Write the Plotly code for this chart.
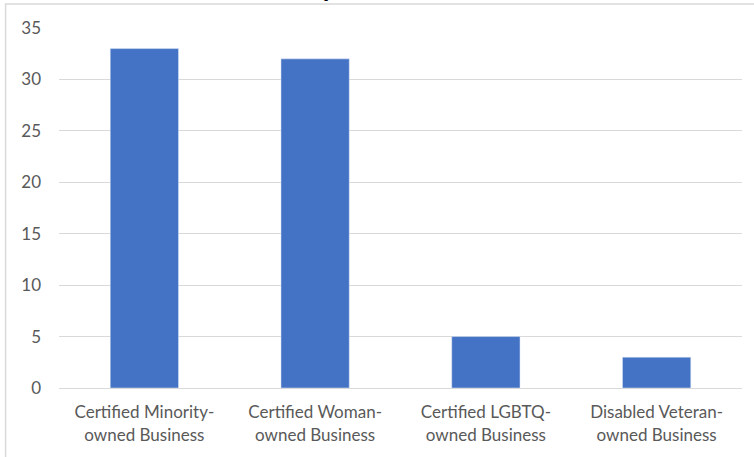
import plotly.graph_objects as go

categories = ["Certified Minority-<br>owned Business", "Certified Woman-<br>owned Business",
              "Certified LGBTQ-<br>owned Business", "Disabled Veteran-<br>owned Business"]
values = [33, 32, 5, 3]
y_ticks = [0, 5, 10, 15, 20, 25, 30, 35]

W, H = 754, 457
L, R, T, B = 58.5, 11.5, 28, 69
pw, ph = W - L - R, H - T - B

fig = go.Figure(go.Bar(x=categories, y=values, marker_color="#4472C4", width=0.4))

font = dict(family="Lato, Carlito, Calibri, sans-serif", size=17, color="#595959")
fig.update_layout(
    width=W, height=H, margin=dict(l=L, r=R, t=T, b=B, pad=0),
    paper_bgcolor="white", plot_bgcolor="white", showlegend=False, font=font,
    bargap=0.6,
    xaxis=dict(showgrid=False, showline=True, linecolor="#D9D9D9", linewidth=1,
               ticks="", tickfont=font, ticklabelstandoff=9),
    yaxis=dict(range=[0, 35], tickvals=y_ticks, showgrid=True, gridcolor="#D9D9D9",
               gridwidth=1, zeroline=False, showline=False, ticks="",
               tickfont=font, ticklabelstandoff=17),
)
# outer chart border (partially cropped in original)
fig.add_shape(type="rect", xref="paper", yref="paper",
              x0=(5 - L) / pw, x1=(W + 10 - L) / pw,
              y0=-(H + 10 - T - ph) / ph, y1=(H - 4 - B) / ph,
              line=dict(color="#D9D9D9", width=1.5), fillcolor="rgba(0,0,0,0)", layer="below")
# cropped title (only descender visible)
fig.add_annotation(text="<b>y</b>", xref="paper", yref="paper",
                   x=(328 - L) / pw, y=(H - 4 - B) / ph, yanchor="bottom", showarrow=False,
                   font=dict(family="Lato, Calibri, sans-serif", size=28, color="black"))
fig.write_html("out.html")
